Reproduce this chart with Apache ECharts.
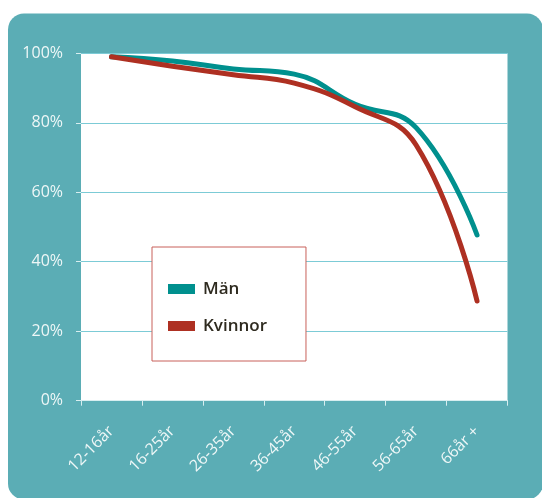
<!DOCTYPE html>
<html>
<head>
<meta charset="utf-8">
<script src="https://cdn.jsdelivr.net/npm/echarts@6/dist/echarts.min.js"></script>
<style>
  html, body { margin: 0; padding: 0; background: #ffffff; }
  #chart { width: 542px; height: 498px; }
</style>
</head>
<body>
<div id="chart"></div>
<script>
// Age groups
const ageGroups = ['12-16år', '16-25år', '26-35år', '36-45år', '46-55år', '56-65år', '66år +'];
// Share (%) per age group
const manValues = [99.0, 97.8, 95.5, 94.0, 85.3, 78.6, 47.7];
const kvinnorValues = [99.0, 96.3, 93.8, 91.4, 84.6, 73.6, 28.7];
// Y axis ticks
const yMin = 0, yMax = 100, yStep = 20;

const panelColor = '#5badb5';
const labelColor = '#eef7f7';
const fontFamily = '"Open Sans", "Noto Sans", sans-serif';

const chart = echarts.init(document.getElementById('chart'), null, { renderer: 'canvas' });

chart.setOption({
  backgroundColor: '#ffffff',
  animation: false,
  graphic: [{
    type: 'rect',
    z: -10,
    silent: true,
    shape: { x: 8, y: 13.5, width: 535, height: 486, r: 16 },
    style: { fill: panelColor }
  }],
  grid: {
    left: 81, right: 34.5, top: 53.3, bottom: 97.3,
    show: true, backgroundColor: '#ffffff', borderWidth: 0
  },
  legend: {
    orient: 'vertical',
    left: 152, top: 247,
    padding: [32, 39, 25, 16],
    itemGap: 17,
    itemWidth: 27, itemHeight: 10,
    icon: 'rect',
    backgroundColor: '#ffffff',
    borderColor: '#c8605a',
    borderWidth: 1,
    textStyle: {
      fontFamily: fontFamily, fontSize: 17, fontWeight: 600,
      color: '#2e2a1f', lineHeight: 20, padding: [0, 0, 0, 3]
    },
    data: ['Män', 'Kvinnor']
  },
  xAxis: {
    type: 'category',
    data: ageGroups,
    boundaryGap: true,
    axisLine: { show: true, lineStyle: { color: '#d8eef0', width: 1 } },
    axisTick: { show: true, length: 5, lineStyle: { color: '#d8eef0' } },
    axisLabel: {
      rotate: 45, margin: 28, color: labelColor,
      fontFamily: fontFamily, fontSize: 16
    },
    splitLine: { show: false }
  },
  yAxis: {
    type: 'value',
    min: yMin, max: yMax, interval: yStep,
    axisLine: { show: false },
    axisTick: { show: true, length: 5, lineStyle: { color: '#d8eef0' } },
    axisLabel: {
      formatter: '{value}%', margin: 18, color: labelColor,
      fontFamily: fontFamily, fontSize: 16
    },
    splitLine: { show: true, lineStyle: { color: '#7ccbd6', width: 1 } }
  },
  series: [
    {
      name: 'Män', type: 'line', data: manValues,
      smooth: 0.45, symbol: 'none', color: '#00908e',
      lineStyle: { width: 5, color: '#00908e', cap: 'round' }
    },
    {
      name: 'Kvinnor', type: 'line', data: kvinnorValues,
      smooth: 0.45, symbol: 'none', color: '#ae3022',
      lineStyle: { width: 5, color: '#ae3022', cap: 'round' }
    }
  ]
});
</script>
</body>
</html>
